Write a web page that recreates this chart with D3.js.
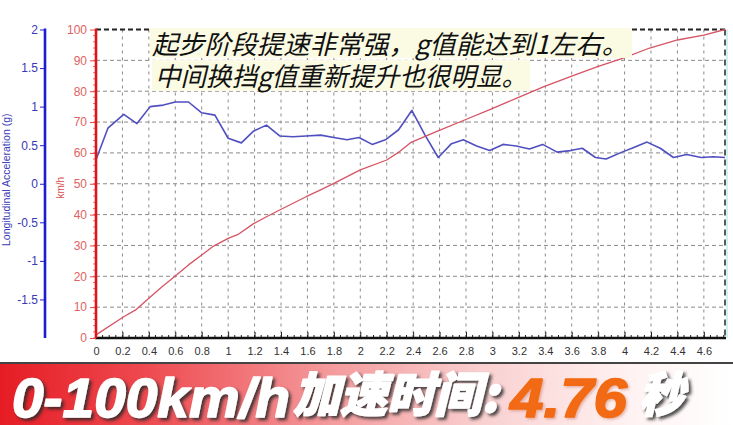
<!DOCTYPE html>
<html>
<head>
<meta charset="utf-8">
<script src="https://cdn.jsdelivr.net/npm/d3@7"></script>
<style>
  html, body { margin: 0; padding: 0; background: #fff; }
  svg { display: block; }
</style>
</head>
<body>
<svg id="chart" width="733" height="425"></svg>
<script>
// ---------------- data ----------------
const speedTime = [0, 0.21, 0.3, 0.4, 0.5, 0.6, 0.7, 0.8, 0.89, 1.0, 1.08, 1.19, 1.29, 1.39, 1.59, 1.7, 1.8, 2.0, 2.2, 2.3, 2.38, 2.58, 2.78, 2.98, 3.18, 3.39, 3.59, 3.79, 3.99, 4.19, 4.4, 4.6, 4.76];
const speedKmh  = [1, 6.9, 9.1, 12.9, 16.6, 20.1, 23.7, 26.9, 29.8, 32.3, 33.7, 37, 39.3, 41.5, 45.8, 48, 50.1, 54.5, 57.7, 60.5, 63.3, 67, 70.5, 74, 77.7, 81.5, 84.7, 87.9, 90.7, 94, 96.6, 98.2, 100];

const accTime = [0, 0.09, 0.21, 0.31, 0.41, 0.51, 0.6, 0.7, 0.8, 0.9, 1.0, 1.1, 1.19, 1.29, 1.39, 1.49, 1.59, 1.7, 1.8, 1.9, 1.99, 2.09, 2.19, 2.29, 2.39, 2.49, 2.59, 2.69, 2.78, 2.88, 2.98, 3.08, 3.18, 3.28, 3.38, 3.49, 3.59, 3.68, 3.78, 3.86, 3.98, 4.07, 4.17, 4.27, 4.37, 4.47, 4.58, 4.67, 4.76];
const accG    = [0.31, 0.72, 0.9, 0.78, 1.0, 1.02, 1.06, 1.06, 0.92, 0.89, 0.59, 0.53, 0.68, 0.76, 0.62, 0.61, 0.62, 0.63, 0.6, 0.57, 0.6, 0.51, 0.57, 0.7, 0.95, 0.63, 0.34, 0.52, 0.57, 0.49, 0.43, 0.51, 0.49, 0.45, 0.51, 0.41, 0.43, 0.46, 0.34, 0.32, 0.41, 0.47, 0.54, 0.46, 0.34, 0.38, 0.34, 0.35, 0.34];

const xTicks = [0, 0.2, 0.4, 0.6, 0.8, 1, 1.2, 1.4, 1.6, 1.8, 2, 2.2, 2.4, 2.6, 2.8, 3, 3.2, 3.4, 3.6, 3.8, 4, 4.2, 4.4, 4.6];
const xTickLabels = ["0","0.2","0.4","0.6","0.8","1","1.2","1.4","1.6","1.8","2","2.2","2.4","2.6","2.8","3","3.2","3.4","3.6","3.8","4","4.2","4.4","4.6"];
const speedTicks = [0, 10, 20, 30, 40, 50, 60, 70, 80, 90, 100];
const accTicks = [2, 1.5, 1, 0.5, 0, -0.5, -1, -1.5];
const accTickLabels = ["2", "1.5", "1", "0.5", "0", "-0.5", "-1", "-1.5"];

const captionLines = ["起步阶段提速非常强，g值能达到1左右。", "中间换挡g值重新提升也很明显。"];
const bannerParts = ["0-100km/h", "加速时间:", "4.76", "秒"];

// ---------------- layout ----------------
const svg = d3.select("#chart");
const X0 = 96, X1 = 725, YT = 29.5, YB = 338;

const x = d3.scaleLinear().domain([0, 4.76]).range([X0, X1]);
const yS = d3.scaleLinear().domain([0, 100]).range([YB, YT]);
const yA = d3.scaleLinear().domain([-2, 2]).range([YB, YT]);

const defs = svg.append("defs");
const grad = defs.append("linearGradient").attr("id", "bannerGrad")
  .attr("gradientUnits", "userSpaceOnUse").attr("x1", 0).attr("x2", 733).attr("y1", 0).attr("y2", 0);
[[0, "#e61c24"], [0.2, "#ee4a50"], [0.45, "#f49a9c"], [0.66, "#fad0d0"], [0.86, "#fff2f2"], [1, "#ffffff"]]
  .forEach(([o, c]) => grad.append("stop").attr("offset", o).attr("stop-color", c));
const sh = defs.append("filter").attr("id", "shadow").attr("x", "-10%").attr("y", "-10%").attr("width", "130%").attr("height", "140%");
sh.append("feDropShadow").attr("dx", 2.5).attr("dy", 2.5).attr("stdDeviation", 1.6).attr("flood-color", "#2a2a2a").attr("flood-opacity", 0.85);
const sh2 = defs.append("filter").attr("id", "shadow2").attr("x", "-10%").attr("y", "-10%").attr("width", "130%").attr("height", "140%");
sh2.append("feDropShadow").attr("dx", 1.5).attr("dy", 1.5).attr("stdDeviation", 1.2).attr("flood-color", "#b05030").attr("flood-opacity", 0.35);

// grid
const grid = svg.append("g");
grid.selectAll("line.v").data(xTicks.slice(1)).enter().append("line")
  .attr("x1", d => x(d)).attr("x2", d => x(d)).attr("y1", YT).attr("y2", YB)
  .attr("stroke", "#8a8a8a").attr("stroke-width", 1).attr("stroke-dasharray", "3,4");
grid.selectAll("line.h").data(speedTicks.slice(1, -1)).enter().append("line")
  .attr("x1", X0).attr("x2", X1).attr("y1", d => yS(d)).attr("y2", d => yS(d))
  .attr("stroke", "#8a8a8a").attr("stroke-width", 1).attr("stroke-dasharray", "4,3");

// top & right borders
svg.append("line").attr("x1", X0).attr("x2", X1).attr("y1", YT).attr("y2", YT)
  .attr("stroke", "#222").attr("stroke-width", 1.8).attr("stroke-dasharray", "5,3");
svg.append("line").attr("x1", X1 + 2).attr("x2", X1 + 2).attr("y1", YT).attr("y2", YB)
  .attr("stroke", "#bfeeee").attr("stroke-width", 1.5);
svg.append("line").attr("x1", X1).attr("x2", X1).attr("y1", YT).attr("y2", YB)
  .attr("stroke", "#333").attr("stroke-width", 1.6).attr("stroke-dasharray", "6,4");

// series
const speedData = speedTime.map((t, i) => ({ t, v: speedKmh[i] }));
const accData = accTime.map((t, i) => ({ t, v: accG[i] }));
svg.append("path").datum(accData)
  .attr("d", d3.line().x(d => x(d.t)).y(d => yA(d.v)))
  .attr("fill", "none").attr("stroke", "#4f4fc0").attr("stroke-width", 1.6).attr("stroke-linejoin", "round");
svg.append("path").datum(speedData)
  .attr("d", d3.line().x(d => x(d.t)).y(d => yS(d.v)))
  .attr("fill", "none").attr("stroke", "#d65464").attr("stroke-width", 1.3).attr("stroke-linejoin", "round");

// x axis
const xMinor = d3.range(0, 4.76, 0.05);
svg.append("g").selectAll("line").data(xMinor).enter().append("line")
  .attr("x1", d => x(d)).attr("x2", d => x(d)).attr("y1", YB).attr("y2", YB - 3)
  .attr("stroke", "#222").attr("stroke-width", 1);
const xAxis = svg.append("g").attr("transform", `translate(0,${YB})`)
  .call(d3.axisBottom(x).tickValues(xTicks).tickFormat((d, i) => xTickLabels[i]).tickSizeInner(-6).tickSizeOuter(0).tickPadding(9));
xAxis.select(".domain").remove();
xAxis.selectAll(".tick line").attr("stroke", "#222");
xAxis.selectAll("text").attr("font-family", "Liberation Sans, Arial, sans-serif").attr("font-size", 11).attr("fill", "#333");
svg.append("line").attr("x1", X0 - 1).attr("x2", X1 + 1).attr("y1", YB).attr("y2", YB)
  .attr("stroke", "#111").attr("stroke-width", 2.6);

// red speed axis
const sMinor = d3.range(0, 100, 2);
svg.append("g").selectAll("line").data(sMinor).enter().append("line")
  .attr("x1", X0).attr("x2", X0 - 3).attr("y1", d => yS(d)).attr("y2", d => yS(d))
  .attr("stroke", "#e04848").attr("stroke-width", 0.8);
const sAxis = svg.append("g").attr("transform", `translate(${X0},0)`)
  .call(d3.axisLeft(yS).tickValues(speedTicks).tickSizeInner(6).tickSizeOuter(0).tickPadding(3));
sAxis.select(".domain").remove();
sAxis.selectAll(".tick line").attr("stroke", "#e04848");
sAxis.selectAll("text").attr("font-family", "Liberation Sans, Arial, sans-serif").attr("font-size", 12).attr("fill", "#e06262");
svg.append("line").attr("x1", X0).attr("x2", X0).attr("y1", YT - 1).attr("y2", YB)
  .attr("stroke", "#e01515").attr("stroke-width", 2.6);
svg.append("text").attr("transform", `translate(64,${yS(50) + 4}) rotate(-90)`)
  .attr("text-anchor", "middle").attr("font-family", "Liberation Sans, Arial, sans-serif")
  .attr("font-size", 10).attr("fill", "#d84848").text("km/h");

// blue acceleration axis
const AX = 45;
const aAxis = svg.append("g").attr("transform", `translate(${AX},0)`)
  .call(d3.axisLeft(yA).tickValues(accTicks).tickFormat((d, i) => accTickLabels[i]).tickSizeInner(5).tickSizeOuter(0).tickPadding(2));
aAxis.select(".domain").remove();
aAxis.selectAll(".tick line").attr("stroke", "#2020c8");
aAxis.selectAll("text").attr("font-family", "Liberation Sans, Arial, sans-serif").attr("font-size", 12).attr("fill", "#3838b8");
svg.append("line").attr("x1", AX).attr("x2", AX).attr("y1", YT - 1).attr("y2", YB)
  .attr("stroke", "#1c1cd0").attr("stroke-width", 2.6);
svg.append("text").attr("transform", `translate(10,${yA(0) - 4}) rotate(-90)`)
  .attr("text-anchor", "middle").attr("font-family", "Liberation Sans, Arial, sans-serif")
  .attr("font-size", 10.5).attr("fill", "#3a3ab8").text("Longitudinal Acceleration (g)");

// caption
const capBoxes = [{ x: 150, y: 28, w: 482, h: 30 }, { x: 152, y: 60, w: 378, h: 31 }];
const capText = [{ x: 152, y: 53.5, len: 476 }, { x: 155, y: 86, len: 372 }];
capBoxes.forEach(b => svg.append("rect").attr("x", b.x).attr("y", b.y).attr("width", b.w).attr("height", b.h).attr("fill", "#fbfbe3"));
captionLines.forEach((t, i) => {
  svg.append("text").attr("x", capText[i].x).attr("y", capText[i].y)
    .attr("font-family", "'Noto Sans CJK SC', sans-serif").attr("font-size", 26).attr("font-style", "italic")
    .attr("fill", "#111").attr("textLength", capText[i].len).attr("lengthAdjust", "spacingAndGlyphs").text(t);
});

// banner
svg.append("rect").attr("x", 0).attr("y", 363).attr("width", 733).attr("height", 62).attr("fill", "url(#bannerGrad)");
svg.append("line").attr("x1", 0).attr("x2", 733).attr("y1", 363).attr("y2", 363).attr("stroke", "#444").attr("stroke-width", 2);
const bp = [
  { x: 12, y: 417, size: 56, len: 278, fam: "'Liberation Sans', Arial, sans-serif", fill: "#ffffff", f: "url(#shadow)" },
  { x: 293, y: 412, size: 48, len: 205, fam: "'Noto Sans CJK SC', sans-serif", fill: "#ffffff", f: "url(#shadow)" },
  { x: 510, y: 417, size: 56, len: 117, fam: "'Liberation Sans', Arial, sans-serif", fill: "#f26b12", f: "url(#shadow2)" },
  { x: 639, y: 412, size: 48, len: 45, fam: "'Noto Sans CJK SC', sans-serif", fill: "#ffffff", f: "url(#shadow)" }
];
bannerParts.forEach((t, i) => {
  const p = bp[i];
  svg.append("text").attr("x", p.x).attr("y", p.y)
    .attr("font-family", p.fam).attr("font-size", p.size).attr("font-weight", 900).attr("font-style", "italic")
    .attr("fill", p.fill).attr("stroke", p.fill).attr("stroke-width", 1.6).attr("stroke-linejoin", "round")
    .attr("filter", p.f)
    .attr("textLength", p.len).attr("lengthAdjust", "spacingAndGlyphs").text(t);
});
</script>
</body>
</html>
